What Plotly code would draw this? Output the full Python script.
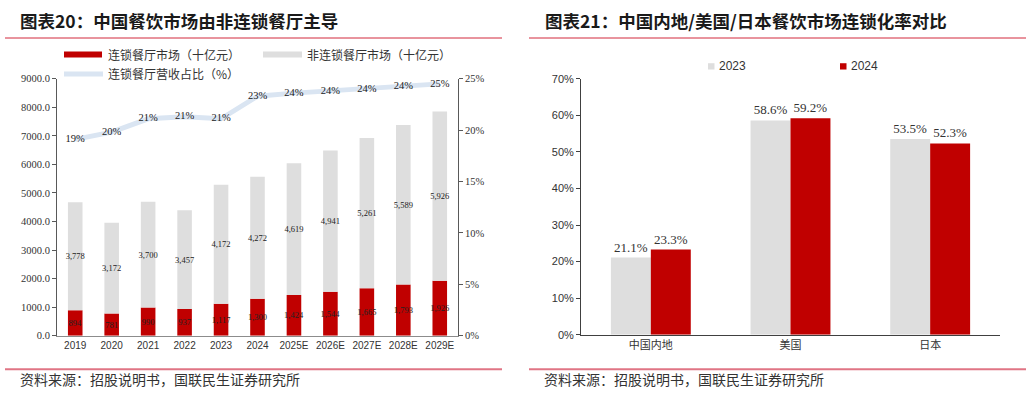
import plotly.graph_objects as go

# ---------------- data ----------------
years = ["2019", "2020", "2021", "2022", "2023", "2024",
         "2025E", "2026E", "2027E", "2028E", "2029E"]
chain_market = [894, 781, 990, 937, 1117, 1300, 1424, 1544, 1665, 1793, 1926]
nonchain_market = [3778, 3172, 3700, 3457, 4172, 4272, 4619, 4941, 5261, 5589, 5926]
chain_share = [19.1, 19.8, 21.1, 21.3, 21.1, 23.3, 23.6, 23.8, 24.0, 24.3, 24.5]

regions = ["中国内地", "美国", "日本"]
rate_2023 = [21.1, 58.6, 53.5]
rate_2024 = [23.3, 59.2, 52.3]

left_ticks = list(range(0, 9001, 1000))
share_ticks = [0, 5, 10, 15, 20, 25]
rate_ticks = list(range(0, 71, 10))

# ---------------- style ----------------
W, H = 1031, 398
RED = "#c00000"
GRAY = "#dedede"
BLUE = "#dae5f2"
LINE_RED = "#d2283c"
SRC_RED = "#e07585"
CJK = "Noto Sans CJK SC"
SERIF = "Liberation Serif"
SANS = "Liberation Sans"


def px(x):
    return x / W


def py(y):
    return 1 - y / H


fig = go.Figure()

# left chart: stacked bars (via base) + share line
fig.add_trace(go.Bar(
    x=years, y=chain_market, xaxis="x", yaxis="y",
    marker=dict(color=RED, line=dict(width=0)), width=0.4,
    text=[f"{v:,}" for v in chain_market], textposition="inside",
    insidetextanchor="middle", constraintext="none", textangle=0,
    textfont=dict(family=SERIF, size=8.5, color="#222222"),
    showlegend=False, hoverinfo="skip"))
fig.add_trace(go.Bar(
    x=years, y=nonchain_market, base=chain_market, xaxis="x", yaxis="y",
    marker=dict(color=GRAY, line=dict(width=0)), width=0.4,
    text=[f"{v:,}" for v in nonchain_market], textposition="inside",
    insidetextanchor="middle", constraintext="none", textangle=0,
    textfont=dict(family=SERIF, size=8.5, color="#222222"),
    showlegend=False, hoverinfo="skip"))
fig.add_trace(go.Scatter(
    x=years, y=chain_share, xaxis="x", yaxis="y2",
    mode="lines+text", line=dict(color=BLUE, width=5),
    texttemplate="%{y:.0f}%", textposition="middle center",
    textfont=dict(family=SERIF, size=10.5, color="#222222"),
    showlegend=False, hoverinfo="skip", cliponaxis=False))

# right chart: grouped bars
fig.add_trace(go.Bar(
    x=regions, y=rate_2023, xaxis="x2", yaxis="y3",
    marker=dict(color=GRAY, line=dict(width=0)), width=0.286, offset=-0.286,
    texttemplate="%{y:.1f}%", textposition="outside",
    textfont=dict(family=SERIF, size=13, color="#333333"),
    cliponaxis=False, showlegend=False, hoverinfo="skip"))
fig.add_trace(go.Bar(
    x=regions, y=rate_2024, xaxis="x2", yaxis="y3",
    marker=dict(color=RED, line=dict(width=0)), width=0.286, offset=0,
    texttemplate="%{y:.1f}%", textposition="outside",
    textfont=dict(family=SERIF, size=13, color="#333333"),
    cliponaxis=False, showlegend=False, hoverinfo="skip"))

axis_common = dict(showgrid=False, zeroline=False, showline=True)

fig.update_layout(
    width=W, height=H,
    margin=dict(l=0, r=0, t=0, b=0),
    paper_bgcolor="white", plot_bgcolor="white",
    barmode="overlay",
    xaxis=dict(domain=[px(57), px(458)], anchor="y", type="category",
               range=[-0.5, 10.5], linecolor="#8c8c8c", linewidth=1,
               ticks="", tickfont=dict(family=SANS, size=10, color="#333333"),
               **axis_common),
    yaxis=dict(domain=[py(340), py(75)], anchor="x", range=[0, 9000],
               tickmode="array", tickvals=left_ticks,
               ticktext=[f"{v:.1f}" for v in left_ticks],
               linecolor="#595959", ticks="outside", ticklen=4,
               tickcolor="#595959",
               tickfont=dict(family=SERIF, size=10.5, color="#333333"),
               **axis_common),
    yaxis2=dict(overlaying="y", side="right", anchor="x", range=[0, 25],
                tickmode="array", tickvals=share_ticks,
                ticktext=[f"{v}%" for v in share_ticks],
                linecolor="#595959", ticks="outside", ticklen=4,
                tickcolor="#595959",
                tickfont=dict(family=SERIF, size=10.5, color="#333333"),
                **axis_common),
    xaxis2=dict(domain=[px(581), px(1000)], anchor="y3", type="category",
                range=[-0.5, 2.5], linecolor="#404040", linewidth=1,
                ticks="", tickfont=dict(family=CJK, size=11, color="#333333"),
                **axis_common),
    yaxis3=dict(domain=[py(339), py(75)], anchor="x2", range=[0, 70],
                tickmode="array", tickvals=rate_ticks,
                ticktext=[f"{v}%" for v in rate_ticks],
                linecolor="#404040", ticks="outside", ticklen=4,
                tickcolor="#404040",
                tickfont=dict(family=SANS, size=11, color="#333333"),
                **axis_common),
)

shapes = []
annotations = []

# title underlines and footer lines
for x0, x1 in [(5, 502), (529, 1026)]:
    shapes.append(dict(type="line", xref="paper", yref="paper",
                       x0=px(x0), x1=px(x1), y0=py(33), y1=py(33),
                       line=dict(color=LINE_RED, width=1)))
    shapes.append(dict(type="line", xref="paper", yref="paper",
                       x0=px(x0), x1=px(x1), y0=py(374.5), y1=py(374.5),
                       line=dict(color=SRC_RED, width=2)))

# titles
for x0, txt in [(18, "图表20：中国餐饮市场由非连锁餐厅主导"),
                (543, "图表21：中国内地/美国/日本餐饮市场连锁化率对比")]:
    annotations.append(dict(xref="paper", yref="paper", x=px(x0), y=py(15),
                            xanchor="left", yanchor="middle", showarrow=False,
                            text=f"<b>{txt}</b>",
                            font=dict(family=CJK, size=17.5, color="#1a1a1a")))
# sources
for x0 in [18, 542]:
    annotations.append(dict(xref="paper", yref="paper", x=px(x0), y=py(385),
                            xanchor="left", yanchor="middle", showarrow=False,
                            text="资料来源：招股说明书，国联民生证券研究所",
                            font=dict(family=CJK, size=14, color="#333333")))

# left legend (manual)
leg_items = [
    (64, 102, 50, RED, 6, "连锁餐厅市场（十亿元）", 106),
    (263, 302, 50, GRAY, 6, "非连锁餐厅市场（十亿元）", 305),
    (64, 103, 70, BLUE, 5, "连锁餐厅营收占比（%）", 106),
]
for x0, x1, yc, col, th, label, tx in leg_items:
    shapes.append(dict(type="line", xref="paper", yref="paper",
                       x0=px(x0), x1=px(x1), y0=py(yc), y1=py(yc),
                       line=dict(color=col, width=th)))
    annotations.append(dict(xref="paper", yref="paper", x=px(tx), y=py(yc),
                            xanchor="left", yanchor="middle", showarrow=False,
                            text=label,
                            font=dict(family=CJK, size=12, color="#333333")))

# right legend (manual)
for sx, col, label in [(708, GRAY, "2023"), (840, RED, "2024")]:
    shapes.append(dict(type="rect", xref="paper", yref="paper",
                       x0=px(sx), x1=px(sx + 6.5), y0=py(65.5), y1=py(59),
                       fillcolor=col, line=dict(width=0)))
    annotations.append(dict(xref="paper", yref="paper", x=px(sx + 9), y=py(62),
                            xanchor="left", yanchor="middle", showarrow=False,
                            text=label,
                            font=dict(family=SANS, size=12, color="#333333")))

fig.update_layout(shapes=shapes, annotations=annotations)

page_fix = (
    "var s=document.createElement('style');"
    "s.innerHTML='html,body{margin:0;padding:0;overflow:hidden;"
    "width:1031px;height:398px;}"
    ".plotly-graph-div{position:absolute;top:0;left:0;}';"
    "document.head.appendChild(s);"
)

fig.write_html("out.html", config={"displayModeBar": False},
               post_script=page_fix)
